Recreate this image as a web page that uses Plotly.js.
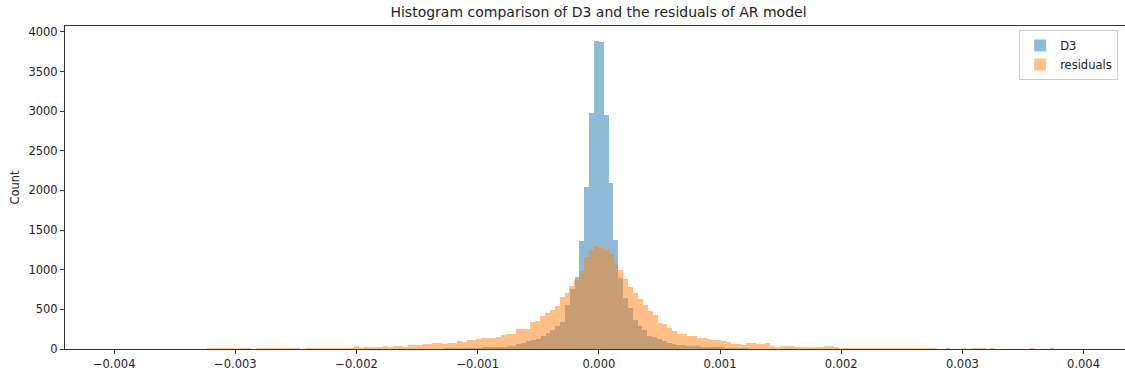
<!DOCTYPE html>
<html>
<head>
<meta charset="utf-8">
<script src="https://cdn.plot.ly/plotly-3.0.1.min.js"></script>
<style>
html,body{margin:0;padding:0;overflow:hidden;background:#fff;}
#chart{width:1140px;height:377px;}
</style>
</head>
<body>
<div id="chart"></div>
<script>
// D3 histogram: bins of width 0.00004 starting at -0.002
const d3Start = -0.002;
const d3BinWidth = 0.00004;
const d3Counts = [
  0,1,1,1,1,1,1,2,2,2,
  2,3,3,3,4,4,5,6,7,8,
  10,10,12,13,15,18,20,22,25,25,
  30,40,42,60,76,95,118,130,165,200,
  240,290,345,560,760,910,1367,2048,2975,3880,
  3870,2950,2090,1380,900,643,517,370,294,244,
  168,147,125,100,80,67,55,46,42,38,
  34,30,25,25,25,22,15,15,15,15,
  10,5,5,3,3,2,2,2,2,1,
  1,1,1,1,1,1,0,0,0,0
];

// Residuals of AR model histogram: bins of width 0.0000404 starting at -0.003232
const resStart = -0.003232;
const resBinWidth = 0.0000404;
const resCounts = [
  12,12,12,12,12,12,12,12,12,0,
  12,12,12,12,12,12,12,12,12,0,
  12,12,12,12,12,12,12,12,12,12,
  34,15,25,25,25,25,40,20,40,40,
  25,50,50,50,59,59,76,76,60,76,
  76,105,93,118,110,126,135,135,139,152,
  177,190,194,250,252,256,336,349,420,460,
  492,546,656,706,790,866,980,1157,1250,1304,
  1271,1250,1203,1082,1000,885,780,705,625,555,
  485,430,330,318,270,230,193,190,165,158,
  145,139,130,117,112,96,90,63,60,55,
  76,76,60,60,76,40,25,42,42,42,
  30,25,25,28,30,30,32,34,30,15,
  15,15,15,15,15,15,15,15,15,15,
  15,15,15,15,15,15,12,8,10,0,
  0,10,0,0,10,0,10,12,12,0,
  10,0,0,0,0,0,0,0,10,0,
  0,0,10
];

const seriesNames = ["D3", "residuals"];
const xTickVals = [-0.004,-0.003,-0.002,-0.001,0,0.001,0.002,0.003,0.004];
const yTickVals = [0,500,1000,1500,2000,2500,3000,3500,4000];

const font = "DejaVu Sans, sans-serif";

const traces = [
  {
    type: "bar",
    name: seriesNames[0],
    y: d3Counts,
    x0: d3Start + d3BinWidth/2,
    dx: d3BinWidth,
    width: d3BinWidth,
    marker: {color: "rgba(31,119,180,0.5)", line: {width: 0}},
    hoverinfo: "skip"
  },
  {
    type: "bar",
    name: seriesNames[1],
    y: resCounts,
    x0: resStart + resBinWidth/2,
    dx: resBinWidth,
    width: resBinWidth,
    marker: {color: "rgba(255,127,14,0.5)", line: {width: 0}},
    hoverinfo: "skip"
  }
];

const layout = {
  width: 1140,
  height: 377,
  margin: {l: 65, r: 8, t: 26, b: 28},
  paper_bgcolor: "#fff",
  plot_bgcolor: "#fff",
  barmode: "overlay",
  bargap: 0,
  font: {family: font, size: 11.5, color: "#222"},
  title: {
    text: "Histogram comparison of D3 and the residuals of AR model",
    font: {family: font, size: 14, color: "#222"},
    x: 0.5, xref: "paper", xanchor: "center",
    y: 1 - 12/377, yref: "container", yanchor: "middle"
  },
  xaxis: {
    range: [-0.004406, 0.0044],
    tickvals: xTickVals,
    tickformat: ".3f",
    ticks: "outside", ticklen: 4, tickwidth: 1, tickcolor: "#333",
    showgrid: false, zeroline: false,
    showline: true, linecolor: "#333", linewidth: 1, mirror: true,
    tickfont: {family: font, size: 11.5, color: "#222"}
  },
  yaxis: {
    range: [0, 4074],
    tickvals: yTickVals,
    ticks: "outside", ticklen: 4, tickwidth: 1, tickcolor: "#333",
    showgrid: false, zeroline: false,
    showline: true, linecolor: "#333", linewidth: 1, mirror: true,
    tickfont: {family: font, size: 11.5, color: "#222"},
    title: {text: "Count", font: {family: font, size: 11.5, color: "#222"}, standoff: 6}
  },
  legend: {
    x: 0.987, xanchor: "right", y: 0.988, yanchor: "top",
    bgcolor: "rgba(255,255,255,0.8)",
    bordercolor: "#ccc", borderwidth: 1,
    font: {family: font, size: 11.5, color: "#222"},
    traceorder: "normal"
  },
  showlegend: true
};

Plotly.newPlot("chart", traces, layout, {staticPlot: true, displayModeBar: false});
</script>
</body>
</html>
